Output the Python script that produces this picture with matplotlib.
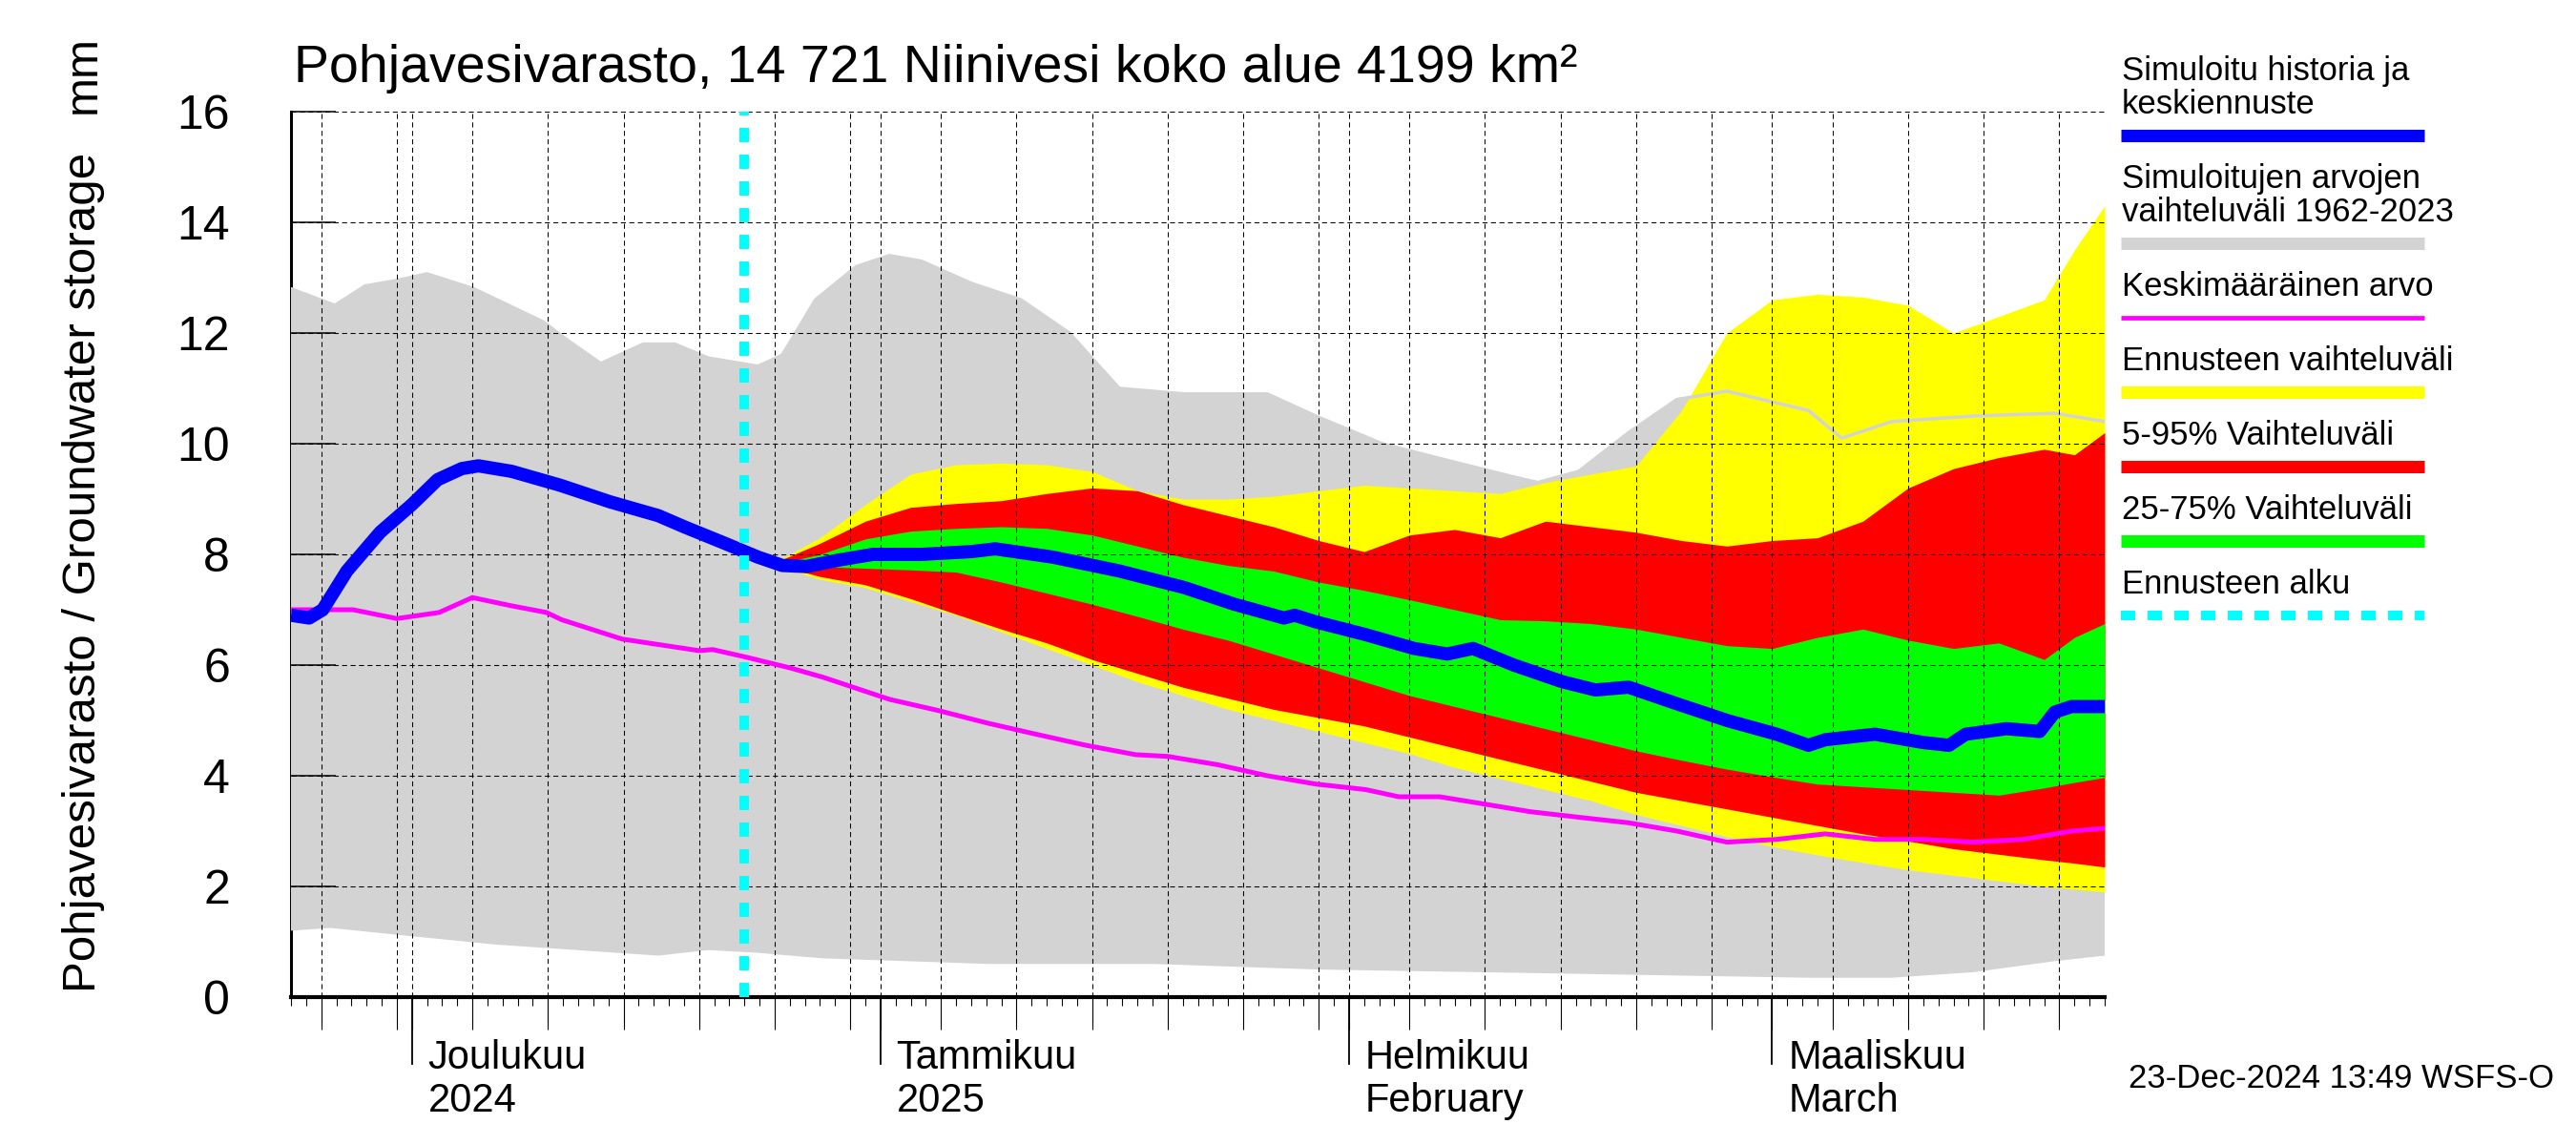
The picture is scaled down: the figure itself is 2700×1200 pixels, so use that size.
import numpy as np
import matplotlib
matplotlib.use('Agg')
import matplotlib.pyplot as plt
from matplotlib.lines import Line2D

plt.rcParams['font.family'] = ['Liberation Sans', 'DejaVu Sans']

start = np.datetime64('2024-11-23')
end = np.datetime64('2025-03-23')
forecast_start = np.datetime64('2024-12-23')

# all x values are day offsets from 23 Nov 2024
hist_days = [0, 1.2, 2.1, 3.7, 5.9, 8.0, 9.7, 11.3, 12.4, 14.6, 17.8, 21.1, 24.3, 26.0, 28.7,
             30.9, 32.5, 34.1, 36.3, 38.5, 41.7, 45.0, 46.6, 50.4, 54.8, 59.1, 62.4, 65.7,
             66.4, 67.8, 71.1, 74.3, 76.5, 78.2, 80.9, 84.1, 86.3, 88.5, 91.7, 95.0, 98.3,
             100.4, 101.5, 104.8, 108.0, 109.7, 110.8, 113.5, 115.7, 116.7, 117.8, 120]
hist_vals = [6.9, 6.85, 7.0, 7.7, 8.4, 8.9, 9.35, 9.55, 9.6, 9.5, 9.25, 8.95, 8.7, 8.5, 8.2,
             7.95, 7.8, 7.78, 7.9, 8.0, 8.0, 8.05, 8.1, 7.95, 7.7, 7.4, 7.1, 6.85,
             6.9, 6.78, 6.55, 6.3, 6.2, 6.3, 6.0, 5.7, 5.55, 5.6, 5.3, 5.0, 4.75,
             4.55, 4.65, 4.75, 4.6, 4.55, 4.75, 4.85, 4.8, 5.15, 5.25, 5.25]

mean_days = [0, 4.1, 7.0, 9.8, 12.0, 14.6, 16.9, 17.9, 21.9, 27.0, 27.9, 30.0, 33.0, 35.2,
             37.4, 39.6, 42.8, 46.1, 49.3, 52.6, 55.9, 58.0, 61.3, 64.6, 67.8, 71.1, 73.3,
             76.0, 78.7, 82.0, 85.2, 88.5, 91.7, 95.0, 98.3, 101.5, 104.8, 108.0, 111.3,
             114.6, 117.8, 120]
mean_vals = [7.0, 7.0, 6.84, 6.95, 7.22, 7.07, 6.95, 6.82, 6.47, 6.26, 6.28, 6.15, 5.95, 5.78,
             5.58, 5.38, 5.18, 4.95, 4.75, 4.55, 4.38, 4.35, 4.2, 4.0, 3.85, 3.75, 3.62,
             3.62, 3.5, 3.35, 3.25, 3.15, 3.0, 2.8, 2.85, 2.95, 2.85, 2.85, 2.8,
             2.85, 3.0, 3.05]

simmax_days = [0, 2.9, 4.9, 7.0, 9.0, 12.1, 16.7, 18.4, 20.5, 23.3, 25.4, 27.6, 30.9, 32.5,
               34.7, 37.4, 39.6, 41.7, 45.0, 48.3, 51.5, 54.8, 59.1, 64.6, 67.8, 72.2, 76.5,
               80.9, 82.5, 85.2, 88.5, 91.7, 95.0, 100.4, 102.6, 105.9, 111.3, 116.7, 120]
simmax_vals = [12.8, 12.5, 12.85, 12.95, 13.07, 12.8, 12.2, 11.85, 11.45, 11.8, 11.8, 11.55, 11.4, 11.6,
               12.6, 13.2, 13.4, 13.3, 12.9, 12.6, 12.0, 11.0, 10.9, 10.9, 10.5, 10.0, 9.7,
               9.4, 9.3, 9.5, 10.2, 10.8, 10.95, 10.6, 10.1, 10.4, 10.5, 10.55, 10.4]

simmin_days = [0, 2.6, 8.0, 13.5, 18.9, 24.3, 27.6, 30.9, 35.2, 40.7, 46.1, 57.0, 67.8, 78.7,
               89.6, 100.4, 105.9, 111.3, 116.7, 120]
simmin_vals = [1.2, 1.25, 1.1, 0.95, 0.85, 0.75, 0.85, 0.8, 0.7, 0.65, 0.6, 0.6, 0.5, 0.45,
               0.4, 0.35, 0.35, 0.45, 0.65, 0.75]

fc_days = [30, 32, 35, 38, 41, 44, 47, 50, 53, 56, 59, 62, 65, 68, 71, 74, 77, 80, 83, 86,
           89, 92, 95, 98, 101, 104, 107, 110, 113, 116, 118, 120]
fc_max = [7.95, 7.85, 8.3, 8.9, 9.45, 9.62, 9.65, 9.62, 9.5, 9.15, 9.0, 9.0, 9.05, 9.15, 9.25, 9.2,
          9.15, 9.1, 9.3, 9.45, 9.6, 10.6, 12.0, 12.6, 12.7, 12.65, 12.5, 12.0, 12.3, 12.6, 13.5, 14.3]
fc_min = [7.95, 7.8, 7.55, 7.4, 7.15, 6.9, 6.6, 6.3, 6.0, 5.7, 5.45, 5.2, 5.0, 4.8, 4.6, 4.4,
          4.15, 3.95, 3.75, 3.55, 3.3, 3.1, 2.9, 2.72, 2.57, 2.43, 2.3, 2.2, 2.1, 2.0, 1.95, 1.9]
p95 = [7.95, 7.85, 8.2, 8.6, 8.85, 8.92, 8.97, 9.1, 9.2, 9.15, 8.9, 8.7, 8.5, 8.25, 8.05, 8.35,
       8.45, 8.3, 8.6, 8.5, 8.4, 8.25, 8.15, 8.25, 8.3, 8.6, 9.2, 9.55, 9.75, 9.9, 9.8, 10.2]
p5 = [7.95, 7.82, 7.6, 7.45, 7.2, 6.92, 6.65, 6.4, 6.1, 5.85, 5.6, 5.4, 5.2, 5.05, 4.9, 4.7,
      4.5, 4.3, 4.1, 3.9, 3.7, 3.55, 3.4, 3.25, 3.1, 2.95, 2.82, 2.68, 2.58, 2.48, 2.42, 2.35]
p75 = [7.95, 7.82, 8.0, 8.28, 8.42, 8.47, 8.5, 8.47, 8.35, 8.15, 7.95, 7.8, 7.7, 7.5, 7.35, 7.18,
       7.0, 6.82, 6.8, 6.75, 6.65, 6.5, 6.35, 6.3, 6.5, 6.65, 6.45, 6.3, 6.4, 6.1, 6.5, 6.75]
p25 = [7.95, 7.8, 7.78, 7.75, 7.72, 7.68, 7.5, 7.3, 7.1, 6.88, 6.65, 6.45, 6.2, 5.95, 5.7, 5.45,
       5.25, 5.05, 4.85, 4.65, 4.45, 4.28, 4.12, 3.98, 3.85, 3.8, 3.75, 3.7, 3.65, 3.78, 3.88, 3.97]

month_starts = ['2024-12-01', '2025-01-01', '2025-02-01', '2025-03-01']
month_top = ['Joulukuu', 'Tammikuu', 'Helmikuu', 'Maaliskuu']
month_bottom = ['2024', '2025', 'February', 'March']

title = 'Pohjavesivarasto, 14 721 Niinivesi koko alue 4199 km\u00b2'
ylabel = 'Pohjavesivarasto / Groundwater storage'
legend_items = [
    (['Simuloitu historia ja', 'keskiennuste'], 'blue', 9.4, '-'),
    (['Simuloitujen arvojen', 'vaihteluväli 1962-2023'], '#d3d3d3', 9.4, '-'),
    (['Keskimääräinen arvo'], 'magenta', 3.4, '-'),
    (['Ennusteen vaihteluväli'], 'yellow', 9.4, '-'),
    (['5-95% Vaihteluväli'], 'red', 9.4, '-'),
    (['25-75% Vaihteluväli'], '#00ff00', 9.4, '-'),
    (['Ennusteen alku'], 'cyan', 7.2, (0, (1.5, 1.3))),
]


def day(s):
    return int((np.datetime64(s, 'D') - start).astype(int))


fig = plt.figure(figsize=(27, 12), dpi=100)
ax = fig.add_axes([305 / 2700, 1 - 1045 / 1200, (2206 - 305) / 2700, (1045 - 117) / 1200])

# simulated range (grey)
ax.fill(np.concatenate([simmax_days, simmin_days[::-1]]),
        np.concatenate([simmax_vals, simmin_vals[::-1]]),
        color='#d3d3d3', lw=0, zorder=1)
ax.fill_between(fc_days, fc_min, fc_max, color='yellow', lw=0, zorder=1.1)
ax.fill_between(fc_days, p5, p95, color='red', lw=0, zorder=1.2)
ax.fill_between(fc_days, p25, p75, color='#00ff00', lw=0, zorder=1.3)
ax.plot(simmax_days, simmax_vals, color='#d3d3d3', lw=2.5, zorder=1.4)

ax.plot(mean_days, mean_vals, color='magenta', lw=3.6, zorder=3)
ax.plot(hist_days, hist_vals, color='blue', lw=10, zorder=3.5, solid_capstyle='butt')
ax.axvline(day(forecast_start), color='cyan', lw=7.2, linestyle=(0, (1.5, 1.3)), zorder=4)

ax.set_xlim(0, day(end))
ax.set_ylim(0, 16)

# ticks: daily minor, 5-day major, month starts long
all_days = np.arange(0, day(end) + 1)
dates = start + all_days
dom = (dates - dates.astype('datetime64[M]').astype('datetime64[D]')).astype(int) + 1
major = all_days[np.isin(dom, [1, 5, 10, 15, 20, 25, 30])]
ax.set_xticks(major)
ax.set_xticks(all_days, minor=True)
ax.tick_params(axis='x', which='major', length=24.5, width=0.8, direction='out', labelbottom=False)
ax.tick_params(axis='x', which='minor', length=6.5, width=0.8, direction='out')
ax.set_yticks(range(0, 17, 2))
ax.tick_params(axis='y', direction='in', length=34, width=1.1, labelsize=36, pad=46)

ax.grid(True, which='major', color='black', linestyle=(0, (5, 3.5)), linewidth=0.75)
ax.set_axisbelow('line')

for s in ['top', 'right']:
    ax.spines[s].set_visible(False)
ax.spines['bottom'].set_linewidth(3)
ax.spines['left'].set_linewidth(2.2)
ax.spines['left'].set_zorder(0.8)

trans = ax.get_xaxis_transform()
for ms, t1, t2 in zip(month_starts, month_top, month_bottom):
    d = day(ms)
    ax.add_line(Line2D([d, d], [0, -70 / 928], transform=trans, color='black', lw=1.3, clip_on=False))
    ax.annotate(t1, xy=(d, 0), xycoords=trans, xytext=(12, -54), textcoords='offset points',
                ha='left', va='baseline', fontsize=30)
    ax.annotate(t2, xy=(d, 0), xycoords=trans, xytext=(12, -86.5), textcoords='offset points',
                ha='left', va='baseline', fontsize=30)

fig.text(308 / 2700, 1 - 86 / 1200, title, fontsize=40, ha='left', va='baseline')
fig.text(100 / 2700, 1 - 600 / 1200, ylabel, fontsize=35.5, rotation=90, rotation_mode='anchor',
         ha='center', va='baseline')
fig.text(100 / 2700, 1 - 78 / 1200, 'mm', fontsize=35.5, rotation=90, rotation_mode='anchor',
         ha='center', va='baseline')
fig.text(2677 / 2700, 1 - 1140 / 1200, '23-Dec-2024 13:49 WSFS-O', fontsize=25,
         ha='right', va='baseline')

# legend on the right
y = 84
for lines, color, lw, ls in legend_items:
    for ln in lines:
        fig.text(2224 / 2700, 1 - y / 1200, ln, fontsize=25, ha='left', va='baseline')
        y += 35
    bar_y = y - 35 + 22.5
    fig.add_artist(Line2D([2223 / 2700, 2541 / 2700], [1 - bar_y / 1200] * 2, color=color,
                          lw=lw, linestyle=ls, solid_capstyle='butt', dash_capstyle='butt',
                          transform=fig.transFigure))
    y = bar_y + 55.5

fig.savefig('out.png', dpi=100)
